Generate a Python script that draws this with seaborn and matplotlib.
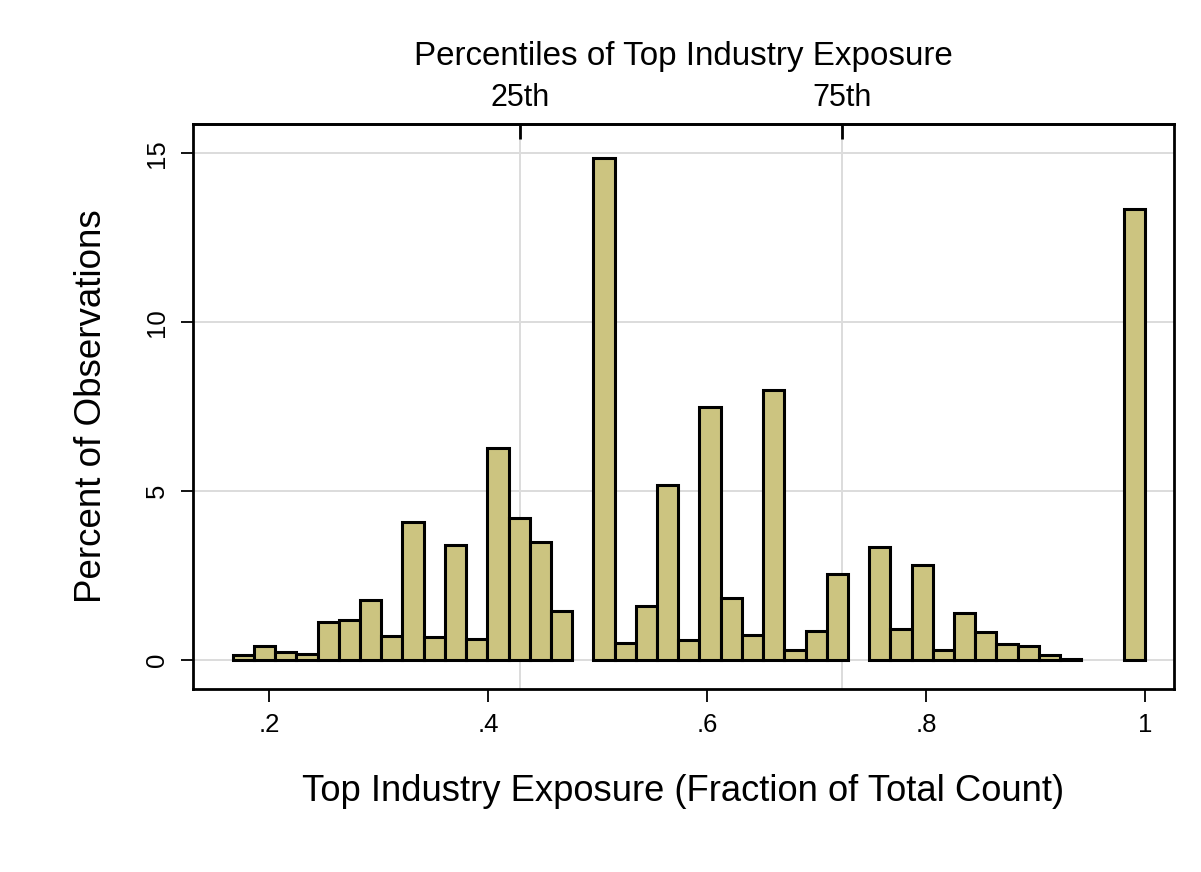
import numpy as np
import pandas as pd
import matplotlib
matplotlib.use("Agg")
import matplotlib.pyplot as plt
import seaborn as sns

# histogram of top industry exposure, 43 equal bins from 1/6 to 1
bin_lo = 1 / 6
bin_hi = 1.0
n_bins = 43
percent = [0.15, 0.41, 0.24, 0.18, 1.12, 1.17, 1.76, 0.71, 4.08, 0.68,
           3.39, 0.60, 6.28, 4.19, 3.48, 1.43, 0.00, 14.86, 0.50, 1.58,
           5.18, 0.57, 7.48, 1.83, 0.72, 7.98, 0.29, 0.85, 2.54, 0.00,
           3.35, 0.90, 2.80, 0.29, 1.39, 0.82, 0.45, 0.41, 0.15, 0.03,
           0.00, 0.00, 13.36]

pct_pos = [0.429, 0.723]
pct_labels = ["25th", "75th"]
x_ticks = [0.2, 0.4, 0.6, 0.8, 1.0]
x_ticklabels = [".2", ".4", ".6", ".8", "1"]
y_ticks = [0, 5, 10, 15]

edges = np.linspace(bin_lo, bin_hi, n_bins + 1)
df = pd.DataFrame({'exposure': (edges[:-1] + edges[1:]) / 2,
                   'percent': percent})

sns.set_style("white")
plt.rcParams['font.family'] = ['Liberation Sans', 'DejaVu Sans']
plt.rcParams['text.color'] = 'black'
plt.rcParams['axes.labelcolor'] = 'black'
plt.rcParams['xtick.color'] = 'black'
plt.rcParams['ytick.color'] = 'black'

fig = plt.figure(figsize=(12.01, 8.72), dpi=100)
ax = fig.add_axes([0.1604, 0.2099, 0.9775 - 0.1604, 0.8581 - 0.2099])

# grid first so bars sit on top
for y in y_ticks:
    ax.axhline(y, color='#dcdcdc', lw=1.4, zorder=0)
for xp in pct_pos:
    ax.axvline(xp, color='#dcdcdc', lw=1.4, zorder=0)

sns.histplot(data=df, x='exposure', weights='percent', bins=list(edges),
             ax=ax, color='#ccc480', alpha=1, edgecolor='black',
             linewidth=2.2, zorder=2)
for p in ax.patches:
    if p.get_height() <= 0:
        p.set_visible(False)

ax.set_xlim(0.130, 1.0265)
ax.set_ylim(-0.87, 15.88)
ax.set_xticks(x_ticks)
ax.set_xticklabels(x_ticklabels)
ax.set_yticks(y_ticks)
ax.set_yticklabels([str(v) for v in y_ticks], rotation=90, va='center')
ax.tick_params(axis='x', direction='out', length=9, width=1.3,
               labelsize=18.5, pad=8, bottom=True, colors='black')
ax.tick_params(axis='y', direction='out', length=9, width=1.3,
               labelsize=18.5, pad=8, left=True, colors='black')
ax.set_xlabel("Top Industry Exposure (Fraction of Total Count)",
              fontsize=26.2, labelpad=27, color='black')
ax.set_ylabel("Percent of Observations", fontsize=26.5, labelpad=26,
              color='black')
for s in ax.spines.values():
    s.set_color('black')
    s.set_linewidth(2)

top = ax.secondary_xaxis('top')
top.set_xticks(pct_pos)
top.set_xticklabels(pct_labels)
top.tick_params(direction='in', length=11, width=2, labelsize=22, pad=8,
                colors='black')
top.set_xlabel("Percentiles of Top Industry Exposure", fontsize=23.9,
               labelpad=13, color='black')
top.spines['top'].set_linewidth(2)

fig.savefig("out.png", dpi=100, facecolor='white')
